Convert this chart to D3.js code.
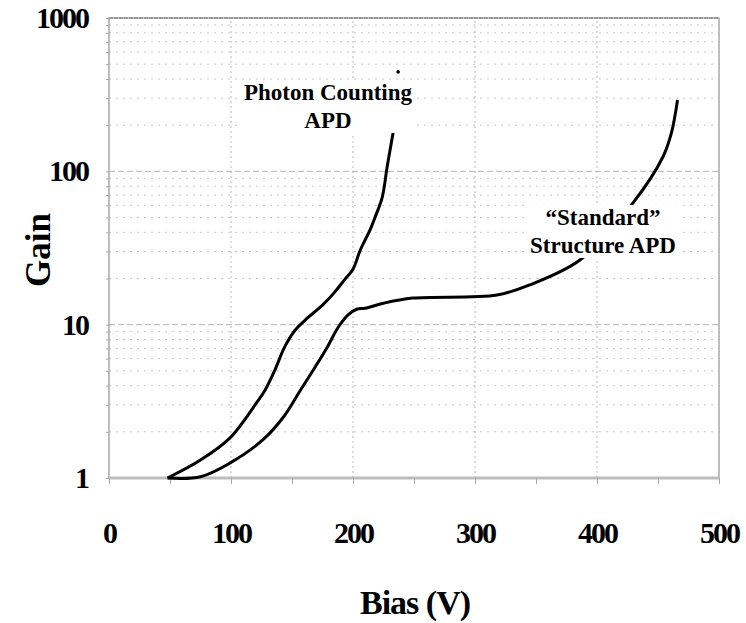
<!DOCTYPE html>
<html>
<head>
<meta charset="utf-8">
<script src="https://cdn.jsdelivr.net/npm/d3@7"></script>
<style>
  body { margin: 0; background: #fff; }
  text { font-family: "Liberation Serif", "Times New Roman", serif; font-weight: bold; }
</style>
</head>
<body>
<div class="chart"></div>
<script>
// bias (V) vs gain
const photonBias = [48, 75, 99, 121, 128, 136, 144, 152.5, 163, 175, 185, 193, 200, 206, 214, 218, 224, 228, 233];
const photonGain = [1, 1.31, 1.82, 3.1, 3.75, 5.06, 7.16, 9.2, 11.1, 13.4, 16.3, 19.6, 23, 30.7, 41.5, 50, 68, 107, 181];
const strayBias = [237];
const strayGain = [445];

const standardBias = [48, 75, 99, 126, 143, 157, 169, 179, 188, 196, 203, 210, 225, 249, 318, 345, 386, 430, 454, 461, 466];
const standardGain = [1, 1.02, 1.25, 1.77, 2.5, 3.75, 5.3, 7.16, 9.66, 11.6, 12.6, 12.8, 13.8, 14.9, 15.6, 18.2, 26.4, 63, 124, 178, 292];

const xTicks = [0, 100, 200, 300, 400, 500];
const yTicks = [1, 10, 100, 1000];

const width = 746, height = 623;
const margin = {top: 18, right: 27, bottom: 145, left: 109};

const svg = d3.select(".chart").append("svg")
    .attr("width", width)
    .attr("height", height);

const x = d3.scaleLinear()
    .domain([0, 500])
    .range([margin.left, width - margin.right]);

const y = d3.scaleLog()
    .domain([1, 1000])
    .range([height - margin.bottom, margin.top]);

// minor + major gridlines
const minorY = [];
for (let dec = 1; dec < 1000; dec *= 10) {
  for (let k = 2; k <= 9; k++) minorY.push(dec * k);
}

svg.append("g")
  .selectAll("line")
  .data(minorY)
  .join("line")
    .attr("x1", x(0)).attr("x2", x(500))
    .attr("y1", d => y(d)).attr("y2", d => y(d))
    .attr("stroke", "#c8c8c8")
    .attr("stroke-dasharray", "2,5");

svg.append("g")
  .selectAll("line")
  .data([10, 100])
  .join("line")
    .attr("x1", x(0)).attr("x2", x(500))
    .attr("y1", d => y(d)).attr("y2", d => y(d))
    .attr("stroke", "#b4b4b4")
    .attr("stroke-dasharray", "6,3");

svg.append("g")
  .selectAll("line")
  .data([100, 200, 300, 400])
  .join("line")
    .attr("x1", d => x(d)).attr("x2", d => x(d))
    .attr("y1", y(1)).attr("y2", y(1000))
    .attr("stroke", "#b8b8b8")
    .attr("stroke-dasharray", "2,3");

// frame
svg.append("rect")
    .attr("x", x(0)).attr("y", y(1000))
    .attr("width", x(500) - x(0))
    .attr("height", y(1) - y(1000))
    .attr("fill", "none")
    .attr("stroke", "#a8a8a8")
    .attr("stroke-width", 1.5);

svg.append("line")
    .attr("x1", x(0)).attr("x2", x(500))
    .attr("y1", y(1000)).attr("y2", y(1000))
    .attr("stroke", "#999")
    .attr("stroke-width", 2)
    .attr("stroke-dasharray", "4,1");

svg.append("line")
    .attr("x1", x(0)).attr("x2", x(500))
    .attr("y1", y(1)).attr("y2", y(1))
    .attr("stroke", "#bdbdbd")
    .attr("stroke-width", 3);

// small ticks
svg.append("g")
    .attr("transform", `translate(0,${y(1)})`)
    .call(d3.axisBottom(x).tickValues(d3.range(0, 501, 50)).tickSize(6).tickFormat(""))
    .call(g => g.select(".domain").remove())
    .call(g => g.selectAll("line").attr("stroke", "#aaa"));

svg.append("g")
    .attr("transform", `translate(${x(0)},0)`)
    .call(d3.axisLeft(y).tickValues(minorY.concat(yTicks)).tickSize(3).tickFormat(""))
    .call(g => g.select(".domain").remove())
    .call(g => g.selectAll("line").attr("stroke", "#aaa"));

// tick labels
svg.append("g")
    .attr("transform", `translate(${x(0)},0)`)
    .call(d3.axisLeft(y).tickValues(yTicks).tickSize(0).tickPadding(21).tickFormat(d3.format("d")))
    .call(g => g.select(".domain").remove())
    .call(g => g.selectAll("text")
        .attr("fill", "#000")
        .style("font-size", "30px")
        .style("letter-spacing", "-2px"));

svg.append("g")
    .attr("transform", `translate(0,${y(1)})`)
    .call(d3.axisBottom(x).tickValues(xTicks).tickSize(0).tickPadding(44))
    .call(g => g.select(".domain").remove())
    .call(g => g.selectAll("text")
        .attr("fill", "#000")
        .style("font-size", "30px")
        .style("letter-spacing", "-2px"));

// axis titles
svg.append("text")
    .attr("x", 415).attr("y", 614)
    .attr("text-anchor", "middle")
    .style("font-size", "34px")
    .style("letter-spacing", "-1px")
    .text("Bias (V)");

svg.append("text")
    .attr("transform", "translate(50,250) rotate(-90)")
    .attr("text-anchor", "middle")
    .style("font-size", "35px")
    .text("Gain");

// curves
const line = d3.line()
    .x(d => x(d[0]))
    .y(d => y(d[1]))
    .curve(d3.curveCatmullRom.alpha(0.5));

const photon = photonBias.map((b, i) => [b, photonGain[i]]);
const standard = standardBias.map((b, i) => [b, standardGain[i]]);

svg.append("path")
    .datum(photon)
    .attr("d", line)
    .attr("fill", "none")
    .attr("stroke", "#000")
    .attr("stroke-width", 3);

svg.append("path")
    .datum(standard)
    .attr("d", line)
    .attr("fill", "none")
    .attr("stroke", "#000")
    .attr("stroke-width", 3);

svg.append("g")
  .selectAll("circle")
  .data(strayBias.map((b, i) => [b, strayGain[i]]))
  .join("circle")
    .attr("cx", d => x(d[0]))
    .attr("cy", d => y(d[1]))
    .attr("r", 1.8)
    .attr("fill", "#000");

// annotations (white backing hides the curve under the label)
function label(lines, cx, y0) {
  const g = svg.append("g");
  const t = g.append("text")
      .attr("text-anchor", "middle")
      .style("font-size", "23px");
  lines.forEach((s, i) => {
    t.append("tspan").attr("x", cx).attr("y", y0 + i * 28).text(s);
  });
  const bb = t.node().getBBox();
  g.insert("rect", "text")
      .attr("x", bb.x - 2).attr("y", bb.y)
      .attr("width", bb.width + 4).attr("height", bb.height)
      .attr("fill", "#fff");
}

label(["Photon Counting", "APD"], 328, 100);
label(["\u201cStandard\u201d", "Structure APD"], 603, 225);
</script>
</body>
</html>
